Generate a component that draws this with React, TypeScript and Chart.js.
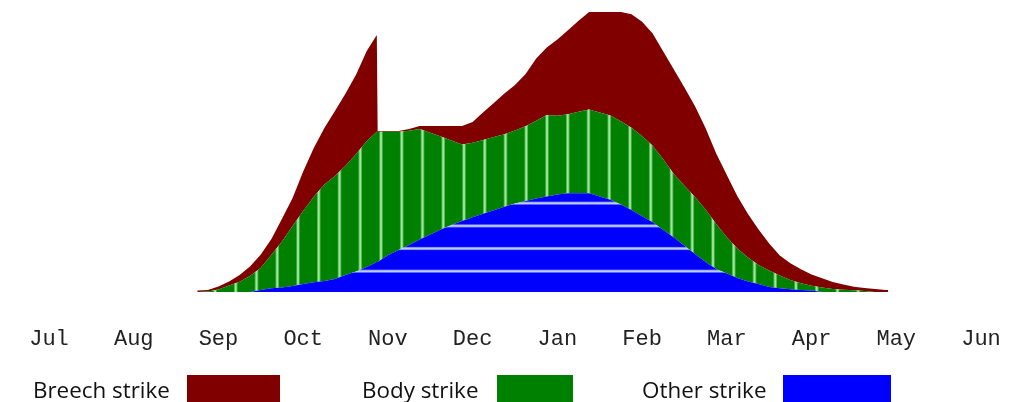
import React, { useEffect, useRef } from 'react';
import { Chart, registerables } from 'chart.js';

Chart.register(...registerables);

// Month tick labels (season runs July -> June)
const MONTHS = ['Jul', 'Aug', 'Sep', 'Oct', 'Nov', 'Dec', 'Jan', 'Feb', 'Mar', 'Apr', 'May', 'Jun'];

// x position of each sample, in months from mid-July (0 = Jul)
const X_MONTHS = [
  1.75, 1.875, 2, 2.125, 2.25, 2.375, 2.5, 2.625, 2.75, 2.875, 3, 3.125, 3.25, 3.375, 3.5, 3.625, 3.75,
  3.869, 3.879,
  4, 4.125, 4.25, 4.375, 4.5, 4.625, 4.75, 4.875, 5, 5.125,
  5.25, 5.375, 5.5, 5.625, 5.75, 5.875, 6, 6.125, 6.25, 6.375,
  6.5, 6.625, 6.75, 6.875, 7, 7.125, 7.25, 7.375, 7.5, 7.625,
  7.75, 7.875, 8, 8.125, 8.25, 8.375, 8.5, 8.625, 8.75, 8.875,
  9, 9.125, 9.25, 9.375, 9.5, 9.625, 9.75, 9.875,
  9.906,
];

const OTHER_STRIKE = [
  0, 0, 0, 0, 0, 0, 2, 3.8, 4.5, 6, 8, 9.8, 11, 13, 17, 20.6, 25,
  30, 30,
  36.7, 42, 47, 52.4, 57.4, 62.4, 67, 71, 74.8, 78.3,
  81.7, 85.3, 88.5, 91, 93.4, 95.5, 97.4, 98.7, 98.7, 98.7,
  95.5, 92.2, 87.5, 82, 75.7, 69.7, 62.1, 54.4, 46.2, 38,
  30, 23, 18.5, 14, 10.4, 8, 5, 3.7, 2.7, 2,
  1.5, 0, 0, 0, 0, 0, 0, 0,
  0,
];

const BODY_STRIKE = [
  0, 0.5, 2.5, 6.5, 10.3, 16.2, 22.3, 33.4, 46, 59.9, 72.9, 85.4, 96.4, 102.9, 109.2, 117.4, 126,
  130.3, 130.3,
  123.6, 118.3, 114.3, 110.6, 101.9, 93, 84.5, 76.5, 74.5, 73.7,
  73.3, 72.5, 73.1, 74.8, 77.8, 81.5, 78.9, 79, 81.5, 83.8,
  84, 84.3, 83.2, 82.2, 80.2, 76.6, 70.7, 63.6, 60, 57.1,
  52.4, 45, 36.3, 29.5, 24, 19, 16.4, 12.7, 9.3, 6.8,
  4.8, 4.4, 3.1, 2.3, 1.7, 1, 0, 0,
  0,
];

const BREECH_STRIKE = [
  1.5, 1.5, 3, 4, 6.7, 9.5, 13.3, 15.9, 22.8, 28.1, 39.6, 48.8, 56.6, 65.1, 72.4, 79.5, 90,
  96.7, 0.7,
  0.7, 0.7, 1.7, 3, 6.7, 10.6, 14.5, 18.5, 20.7, 27.7,
  34, 40.6, 45.4, 52.2, 62.3, 67.5, 76.1, 84, 91.1, 97.5,
  100.5, 103.5, 109.3, 113.5, 114.4, 112.2, 107.7, 104.5, 98.3, 90.6,
  81.4, 70.5, 62.2, 52.2, 43.6, 35.5, 27.1, 20.1, 16.8, 14,
  11.2, 9.4, 6.9, 5.2, 3.6, 3.1, 3, 2,
  2,
];

const Y_MAX = 280;

const BREECH_COLOR = '#800000';
const BODY_COLOR = '#008000';
const OTHER_COLOR = '#0000ff';

const LEGEND = [
  { label: 'Breech strike', color: BREECH_COLOR, textLeft: 33, boxLeft: 187, boxWidth: 93 },
  { label: 'Body strike', color: BODY_COLOR, textLeft: 362, boxLeft: 497, boxWidth: 76 },
  { label: 'Other strike', color: OTHER_COLOR, textLeft: 642, boxLeft: 783, boxWidth: 108 },
];

function verticalStripePattern(): CanvasPattern | string {
  const c = document.createElement('canvas');
  c.width = 83;
  c.height = 4;
  const g = c.getContext('2d');
  if (!g) return BODY_COLOR;
  g.fillStyle = BODY_COLOR;
  g.fillRect(0, 0, 83, 4);
  const centers = [7.5, 28.25, 49, 69.75];
  for (const cx of centers) {
    g.fillStyle = '#4fb04f';
    g.fillRect(cx - 1.8, 0, 3.6, 4);
    g.fillStyle = '#9be89b';
    g.fillRect(cx - 0.9, 0, 1.8, 4);
  }
  const p = g.createPattern(c, 'repeat');
  return p || BODY_COLOR;
}

function horizontalStripePattern(): CanvasPattern | string {
  const c = document.createElement('canvas');
  c.width = 4;
  c.height = 68;
  const g = c.getContext('2d');
  if (!g) return OTHER_COLOR;
  g.fillStyle = OTHER_COLOR;
  g.fillRect(0, 0, 4, 68);
  const centers = [-0.8, 21.9, 44.5, 67.2];
  for (const cy of centers) {
    g.fillStyle = '#7080ff';
    g.fillRect(0, cy - 1.6, 4, 3.2);
    g.fillStyle = '#c0ccff';
    g.fillRect(0, cy - 0.8, 4, 1.6);
  }
  const p = g.createPattern(c, 'repeat');
  return p || OTHER_COLOR;
}

export default function App() {
  const canvasRef = useRef<HTMLCanvasElement | null>(null);

  useEffect(() => {
    const canvas = canvasRef.current;
    if (!canvas) return;
    const toPoints = (vals: number[]) => X_MONTHS.map((x, i) => ({ x, y: vals[i] }));

    const chart = new Chart(canvas, {
      type: 'line',
      data: {
        datasets: [
          {
            label: 'Other strike',
            data: toPoints(OTHER_STRIKE),
            backgroundColor: horizontalStripePattern() as any,
            borderWidth: 0,
            pointRadius: 0,
            fill: 'origin',
            tension: 0,
          },
          {
            label: 'Body strike',
            data: toPoints(BODY_STRIKE),
            backgroundColor: verticalStripePattern() as any,
            borderWidth: 0,
            pointRadius: 0,
            fill: '-1',
            tension: 0,
          },
          {
            label: 'Breech strike',
            data: toPoints(BREECH_STRIKE),
            backgroundColor: BREECH_COLOR,
            borderWidth: 0,
            pointRadius: 0,
            fill: '-1',
            tension: 0,
          },
        ],
      },
      options: {
        animation: false,
        responsive: false,
        maintainAspectRatio: false,
        layout: { padding: { left: 6.65, right: 2.65, top: 12, bottom: 0 } },
        plugins: {
          legend: { display: false },
          tooltip: { enabled: false },
        },
        scales: {
          x: {
            type: 'linear',
            min: -0.5,
            max: 11.5,
            grid: { display: false, drawTicks: false },
            border: { display: false },
            afterBuildTicks: (scale: any) => {
              scale.ticks = MONTHS.map((_, i) => ({ value: i }));
            },
            afterFit: (scale: any) => {
              scale.height = 110;
              scale.paddingLeft = 0;
              scale.paddingRight = 0;
            },
            ticks: {
              autoSkip: false,
              maxRotation: 0,
              padding: 34,
              color: '#222',
              font: { family: '"Courier New", "Liberation Mono", monospace', size: 22 },
              callback: (v: any) => MONTHS[Math.round(Number(v))] ?? '',
            },
          },
          y: {
            display: false,
            stacked: true,
            min: 0,
            max: Y_MAX,
          },
        },
      },
    });
    return () => chart.destroy();
  }, []);

  return (
    <div style={{ position: 'fixed', left: 0, top: 0, width: 1026, height: 402, background: '#fff', overflow: 'hidden' }}>
      <canvas ref={canvasRef} width={1026} height={402} style={{ position: 'absolute', left: 0, top: 0, width: 1026, height: 402 }} />
      {LEGEND.map((l) => (
        <React.Fragment key={l.label}>
          <div
            style={{
              position: 'absolute',
              left: l.textLeft,
              top: 379,
              fontFamily: '"Open Sans", sans-serif',
              fontSize: 22.4,
              lineHeight: '22.4px',
              color: '#111',
              whiteSpace: 'nowrap',
            }}
          >
            {l.label}
          </div>
          <div
            style={{
              position: 'absolute',
              left: l.boxLeft,
              top: 375,
              width: l.boxWidth,
              height: 30,
              background: l.color,
            }}
          />
        </React.Fragment>
      ))}
    </div>
  );
}
